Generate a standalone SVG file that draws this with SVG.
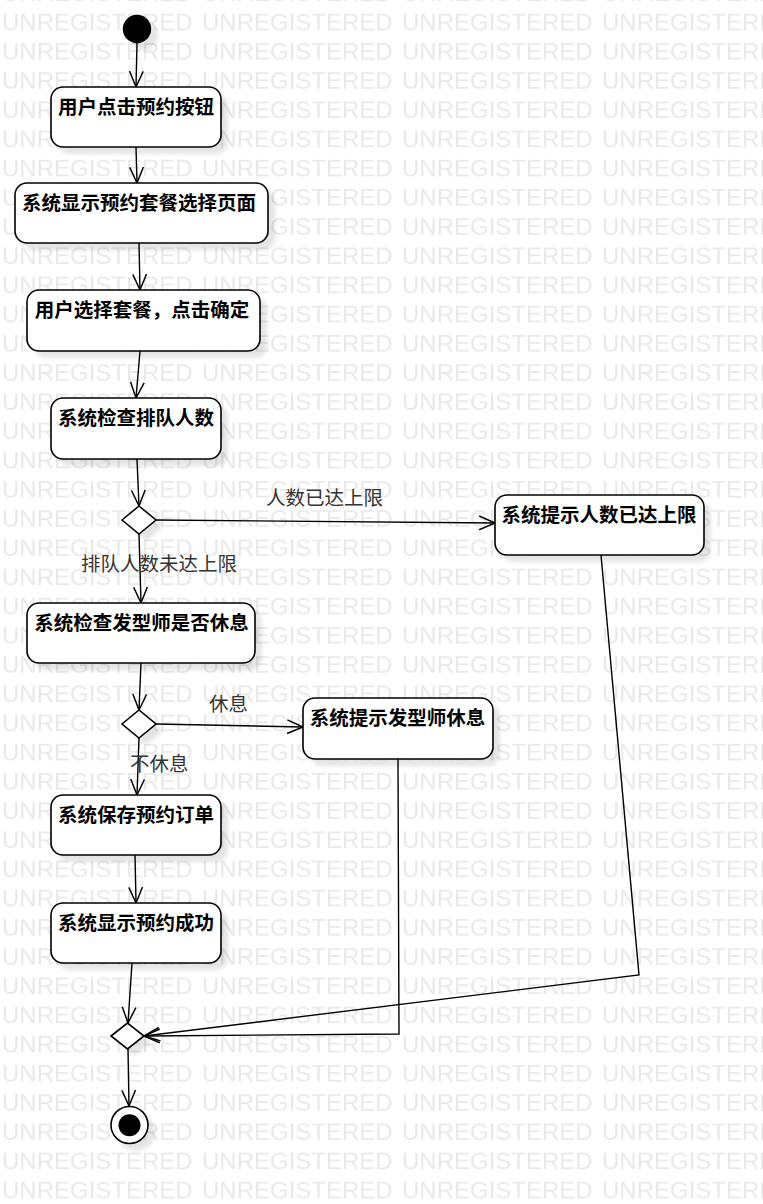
<svg xmlns="http://www.w3.org/2000/svg" width="763" height="1204" viewBox="0 0 763 1204">
<defs>
<pattern id="wm" patternUnits="userSpaceOnUse" x="0" y="8" width="200" height="29.2">
<text x="2" y="22.3" class="wm">UNREGISTERED</text>
</pattern>
<filter id="sh" x="-20%" y="-20%" width="150%" height="150%"><feGaussianBlur stdDeviation="2"/></filter>
<marker id="ah" markerUnits="userSpaceOnUse" markerWidth="20" markerHeight="20" viewBox="-17 -9 19 18" refX="0" refY="0" orient="auto"><path d="M-15,-6.5 L0,0 L-15,6.5" fill="none" stroke="#000" stroke-width="1.4"/></marker>
</defs>
<style>
.wm{font-family:"Liberation Sans",Arial,sans-serif;font-size:24px;fill:#e9e9e9}
.node rect,.node path,.node circle.o{fill:#fff;stroke:#000;stroke-width:1.6}
.t{font-family:"Noto Sans CJK SC",sans-serif;font-size:19.5px;font-weight:bold;text-anchor:middle;fill:#000}
.lbl{font-family:"Noto Sans CJK SC",sans-serif;font-size:19.5px;fill:#333}
.c{fill:none;stroke:#000;stroke-width:1.4;marker-end:url(#ah)}
.shadow{fill:#000;opacity:0.1;filter:url(#sh)}
</style>
<rect width="763" height="1204" fill="#fff"/>
<rect width="763" height="1204" fill="url(#wm)"/>

<g id="shadows">
<circle class="shadow" cx="144" cy="36" r="14"/>
<rect class="shadow" x="58" y="94" width="170" height="60" rx="12"/>
<rect class="shadow" x="22" y="190" width="253" height="60" rx="12"/>
<rect class="shadow" x="34" y="297" width="233" height="61" rx="12"/>
<rect class="shadow" x="58" y="405" width="170" height="61" rx="12"/>
<path class="shadow" d="M129,527 L146,513 L163,527 L146,541 Z"/>
<rect class="shadow" x="502" y="502" width="209" height="60" rx="12"/>
<rect class="shadow" x="34" y="610" width="228" height="60" rx="12"/>
<path class="shadow" d="M129,731 L146,717 L163,731 L146,745 Z"/>
<rect class="shadow" x="310" y="705" width="190" height="61" rx="12"/>
<rect class="shadow" x="58" y="802" width="170" height="60" rx="12"/>
<rect class="shadow" x="58" y="910" width="170" height="60" rx="12"/>
<path class="shadow" d="M118,1043 L134.5,1030 L151,1043 L134.5,1056 Z"/>
<circle class="shadow" cx="136" cy="1132" r="19"/>
</g>

<g id="connectors">
<path class="c" d="M137,43 L136,87"/>
<path class="c" d="M136,147 L137,183"/>
<path class="c" d="M139,243 L140,290"/>
<path class="c" d="M140,351 L136,398"/>
<path class="c" d="M137,459 L139,506"/>
<path class="c" d="M156,520 L495,523"/>
<path class="c" d="M139,534 L141,603"/>
<path class="c" d="M141,663 L139,710"/>
<path class="c" d="M156,724 L303,727"/>
<path class="c" d="M139,738 L137,795"/>
<path class="c" d="M135,855 L136,903"/>
<path class="c" d="M132,963 L128,1023"/>
<path class="c" d="M601,555 L639,975 L144,1036"/>
<path class="c" d="M398,759 L399,1034 L144,1036"/>
<path class="c" d="M128,1049 L129,1106"/>
</g>

<g id="start"><circle cx="137" cy="29" r="14.2" fill="#000"/></g>

<g id="n1" class="node"><rect x="51" y="87" width="170" height="60" rx="12"/><text class="t" x="136" y="113.5">用户点击预约按钮</text></g>
<g id="n2" class="node"><rect x="15" y="183" width="253" height="60" rx="12"/><text class="t" x="139" y="209.5">系统显示预约套餐选择页面</text></g>
<g id="n3" class="node"><rect x="27" y="290" width="233" height="61" rx="12"/><text class="t" x="142" y="316.5">用户选择套餐，点击确定</text></g>
<g id="n4" class="node"><rect x="51" y="398" width="170" height="61" rx="12"/><text class="t" x="136" y="424.5">系统检查排队人数</text></g>
<g id="d1" class="node"><path d="M122,520 L139,506 L156,520 L139,534 Z"/></g>
<g id="n5" class="node"><rect x="495" y="495" width="209" height="60" rx="12"/><text class="t" x="599" y="521.5">系统提示人数已达上限</text></g>
<g id="n6" class="node"><rect x="27" y="603" width="228" height="60" rx="12"/><text class="t" x="141.5" y="629.5">系统检查发型师是否休息</text></g>
<g id="d2" class="node"><path d="M122,724 L139,710 L156,724 L139,738 Z"/></g>
<g id="n7" class="node"><rect x="303" y="698" width="190" height="61" rx="12"/><text class="t" x="397.5" y="724.5">系统提示发型师休息</text></g>
<g id="n8" class="node"><rect x="51" y="795" width="170" height="60" rx="12"/><text class="t" x="136" y="821.5">系统保存预约订单</text></g>
<g id="n9" class="node"><rect x="51" y="903" width="170" height="60" rx="12"/><text class="t" x="136" y="929.5">系统显示预约成功</text></g>
<g id="merge" class="node"><path d="M111,1036 L127.5,1023 L144,1036 L127.5,1049 Z"/></g>
<g id="end" class="node"><circle class="o" cx="129.5" cy="1125" r="18.5"/><circle cx="129.5" cy="1125.3" r="11" fill="#000"/></g>

<g id="labels">
<text class="lbl" x="266" y="505">人数已达上限</text>
<text class="lbl" x="81" y="571">排队人数未达上限</text>
<text class="lbl" x="209" y="711">休息</text>
<text class="lbl" x="130" y="771">不休息</text>
</g>
</svg>
